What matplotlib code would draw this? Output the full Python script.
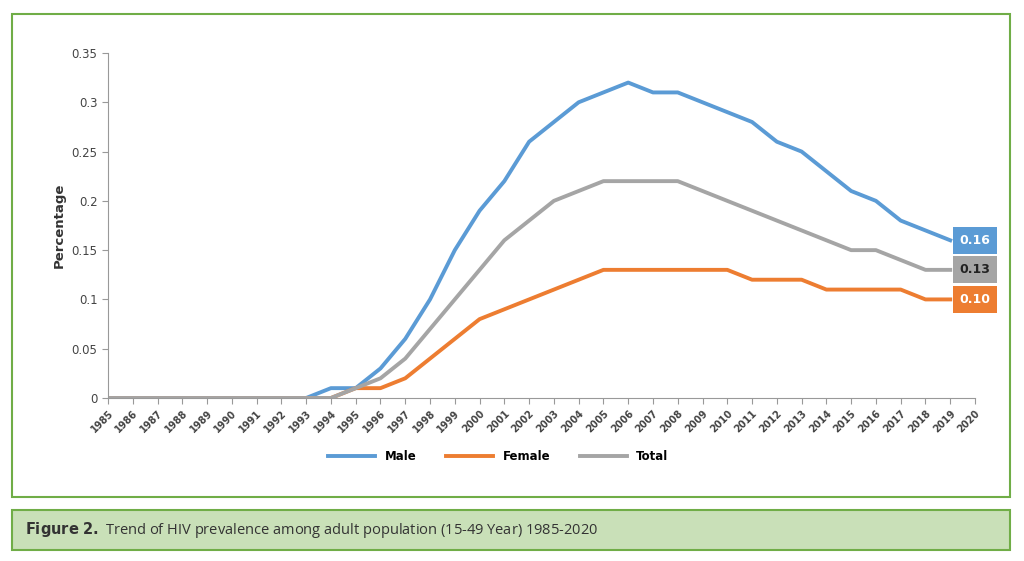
import matplotlib
matplotlib.use("Agg")
import matplotlib.pyplot as plt
from matplotlib.patches import Rectangle

years = list(range(1985, 2021))
data_years = list(range(1985, 2020))
male = [0]*9 + [0.01, 0.01, 0.03, 0.06, 0.10, 0.15, 0.19, 0.22, 0.26, 0.28, 0.30, 0.31, 0.32,
                0.31, 0.31, 0.30, 0.29, 0.28, 0.26, 0.25, 0.23, 0.21, 0.20, 0.18, 0.17, 0.16]
female = [0]*10 + [0.01, 0.01, 0.02, 0.04, 0.06, 0.08, 0.09, 0.10, 0.11, 0.12, 0.13, 0.13,
                   0.13, 0.13, 0.13, 0.13, 0.12, 0.12, 0.12, 0.11, 0.11, 0.11, 0.11, 0.10, 0.10]
total = [0]*10 + [0.01, 0.02, 0.04, 0.07, 0.10, 0.13, 0.16, 0.18, 0.20, 0.21, 0.22, 0.22,
                  0.22, 0.22, 0.21, 0.20, 0.19, 0.18, 0.17, 0.16, 0.15, 0.15, 0.14, 0.13, 0.13]
yticks = [0, 0.05, 0.1, 0.15, 0.2, 0.25, 0.3, 0.35]
ytick_labels = ["0", "0.05", "0.1", "0.15", "0.2", "0.25", "0.3", "0.35"]

c_male, c_female, c_total = "#5b9bd5", "#ed7d31", "#a5a5a5"
green = "#70ad47"

fig = plt.figure(figsize=(10.24, 5.61), dpi=100)
fig.patches.append(Rectangle((12/1024, 1-497/561), 998/1024, 483/561, transform=fig.transFigure,
                             fill=False, ec=green, lw=1.5))
fig.patches.append(Rectangle((12/1024, 1-550/561), 998/1024, 40/561, transform=fig.transFigure,
                             fc="#c9e0b8", ec=green, lw=1.5))
fig.text(25/1024, 1-530/561, r"$\bf{Figure\ 2.}$ Trend of HIV prevalence among adult population (15-49 Year) 1985-2020",
         fontsize=10.5, va="center", color="#333333", family="Open Sans")

ax = fig.add_axes([108/1024, 1-398/561, 867/1024, 345/561])
x = list(range(len(data_years)))
ax.plot(x, male, color=c_male, lw=2.8, label="Male")
ax.plot(x, female, color=c_female, lw=2.8, label="Female")
ax.plot(x, total, color=c_total, lw=2.8, label="Total")
ax.set_xlim(0, len(years)-1)
ax.set_ylim(0, 0.35)
ax.set_xticks(range(len(years)))
ax.set_xticklabels([str(y) for y in years], rotation=45, ha="right", rotation_mode="anchor",
                   fontsize=7, fontweight="bold", color="#444444")
ax.set_yticks(yticks)
ax.set_yticklabels(ytick_labels, fontsize=8.5, color="#444444")
ax.set_ylabel("Percentage", fontsize=9.5, fontweight="bold", color="#333333")
for s in ["top", "right"]:
    ax.spines[s].set_visible(False)
for s in ["left", "bottom"]:
    ax.spines[s].set_color("#999999")
ax.tick_params(colors="#999999", length=4)
ax.tick_params(axis="both", labelcolor="#444444")

for vals, col in [(male, c_male), (total, c_total), (female, c_female)]:
    v = vals[-1]
    ax.annotate(f"{v:.2f}", xy=(len(data_years)-1, v), xytext=(len(years)-1, v),
                ha="center", va="center", fontsize=9, fontweight="bold",
                color="white" if col != c_total else "#222222",
                bbox=dict(boxstyle="square,pad=0.55", fc=col, ec="none"),
                annotation_clip=False)

ax.legend(loc="upper center", bbox_to_anchor=(0.45, -0.12), ncol=3, frameon=False,
          fontsize=8.5, handlelength=4, columnspacing=2.5,
          prop={"weight": "bold", "size": 8.5})
fig.savefig("out.png", dpi=100)
